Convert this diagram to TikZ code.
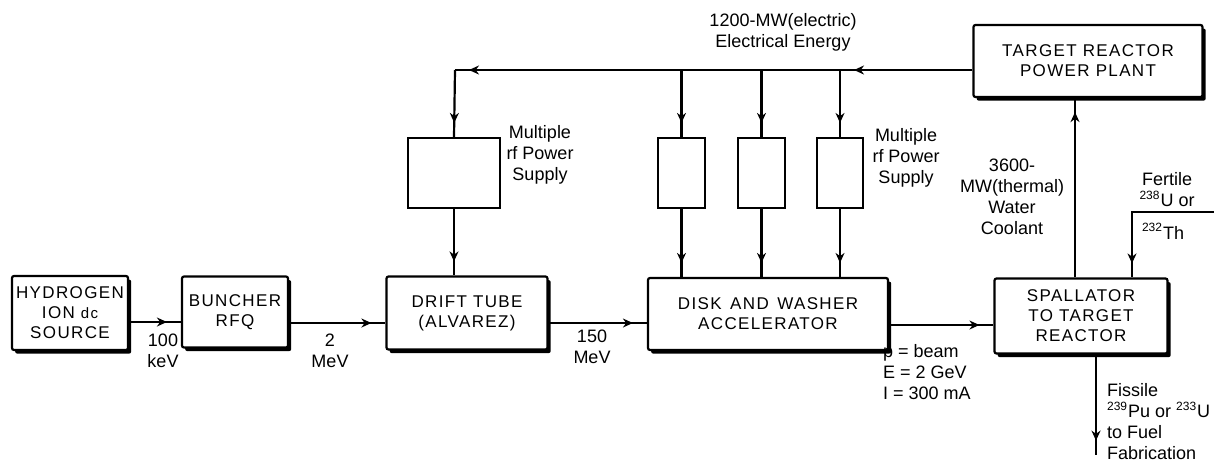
\documentclass[tikz,border=0pt]{standalone}
\usepackage{fontspec}
\setmainfont{Liberation Sans}
\newfontfamily\boxfont[LetterSpace=8]{Liberation Sans}
\usetikzlibrary{arrows.meta,positioning,calc,shadows,decorations.markings}

\begin{document}
\begin{tikzpicture}[x=0.5pt,y=-0.5pt,font=\fontsize{9}{10.5}\selectfont,line width=1.1pt,
  blk/.style={draw,fill=white,rounded corners=1pt,align=center,inner sep=1pt,
    font=\boxfont\fontsize{8.5}{10}\selectfont,
    drop shadow={shadow xshift=1.6pt,shadow yshift=-1.8pt,opacity=1,fill=black}},
  rfbox/.style={draw,fill=white,minimum height=35pt},
  lbl/.style={align=center,inner sep=0pt},
  flow/.style={postaction={decorate},decoration={markings,
    mark=at position -7pt with {\arrow{Stealth[length=5pt,width=4.5pt]}}}}]
\useasboundingbox (0,0) rectangle (1214,463);
% beam line
\node[blk,minimum width=58pt,minimum height=37pt] (src) at (70,313) {HYDROGEN\\ION {\fontsize{7.5}{8}\selectfont dc}\\SOURCE};
\node[blk,minimum width=53pt,minimum height=35.5pt] (rfq) at (235,312) {BUNCHER\\RFQ};
\node[blk,minimum width=80.5pt,minimum height=36.5pt] (dtl) at (467,313) {DRIFT TUBE\\(ALVAREZ)};
\node[blk,minimum width=120pt,minimum height=36pt] (dwa) at (768,314) {DISK\enspace AND\enspace WASHER\\ACCELERATOR};
\node[blk,minimum width=86.5pt,minimum height=37.5pt] (spal) at (1081,316) {SPALLATOR\\TO TARGET\\REACTOR};
\node[blk,minimum width=114.5pt,minimum height=36pt] (plant) at (1088,61) {TARGET REACTOR\\POWER PLANT};
% rf supplies
\node[rfbox,minimum width=46pt] (rf1) at (454,173) {};
\node[rfbox,minimum width=23.5pt] (rf2) at (681.5,173) {};
\node[rfbox,minimum width=23.5pt] (rf3) at (761.5,173) {};
\node[rfbox,minimum width=23pt] (rf4) at (840,173) {};
\coordinate (busL) at (455,70);
\draw[flow] ([yshift=-4.5pt]plant.west) -- (busL -| rf4.north);
\draw[flow] (busL -| rf4.north) -- (busL);
\draw[flow] (busL) -- (rf1.north);
\foreach \b in {rf2,rf3,rf4}
  \draw[flow] (busL -| \b.north) -- (\b.north);
\draw[flow] (rf1.south) -- (rf1.south |- dtl.north);
\foreach \b in {rf2,rf3,rf4}
  \draw[flow] (\b.south) -- (\b.south |- dwa.north);
% beam arrows
\draw[flow] ([yshift=-4.5pt]src.east) -- ([yshift=-4.5pt]src.east -| rfq.west);
\draw[flow] ([yshift=-5.5pt]rfq.east) -- ([yshift=-5.5pt]rfq.east -| dtl.west);
\draw[flow] ([yshift=-5pt]dtl.east) -- ([yshift=-5pt]dtl.east -| dwa.west);
\draw[flow] ([yshift=-5.5pt]dwa.east) -- ([yshift=-5.5pt]dwa.east -| spal.west);
% reactor
\draw[flow] ([xshift=-3pt]spal.north) -- ([xshift=-3pt]spal.north |- plant.south);
\coordinate (fertin) at (1214,212);
\draw[flow] (fertin) -| ([xshift=25.5pt]spal.north);
\draw[flow] ([xshift=7.5pt]spal.south) -- ++(0,100) coordinate (fissout);
% labels
\node[lbl] (kev) at (163,351) {100\\keV};
\node[lbl] (mev2) at (330,351) {2\\MeV};
\node[lbl] (mev150) at (592,347) {150\\MeV};
\node[lbl,anchor=west,align=left] (beam) at (882,372) {p = beam\\E = 2 GeV\\I = 300 mA};
\node[lbl] (mrf1) at (540,155) {Multiple\\rf Power\\Supply};
\node[lbl] (mrf2) at (906,158) {Multiple\\rf Power\\Supply};
\node[lbl] (elec) at (783,32) {1200-MW(electric)\\Electrical Energy};
\node[lbl] (cool) at (1012,197) {3600-\\MW(thermal)\\Water\\Coolant};
\node[lbl] (fert) at (1167,190) {Fertile\\\textsuperscript{238}U or};
\node[lbl] (th) at (1163,231) {\textsuperscript{232}Th};
\node[lbl,anchor=west,align=left] (fiss) at (1106,422) {Fissile\\\textsuperscript{239}Pu or \textsuperscript{233}U\\to Fuel\\Fabrication};
\end{tikzpicture}
\end{document}
